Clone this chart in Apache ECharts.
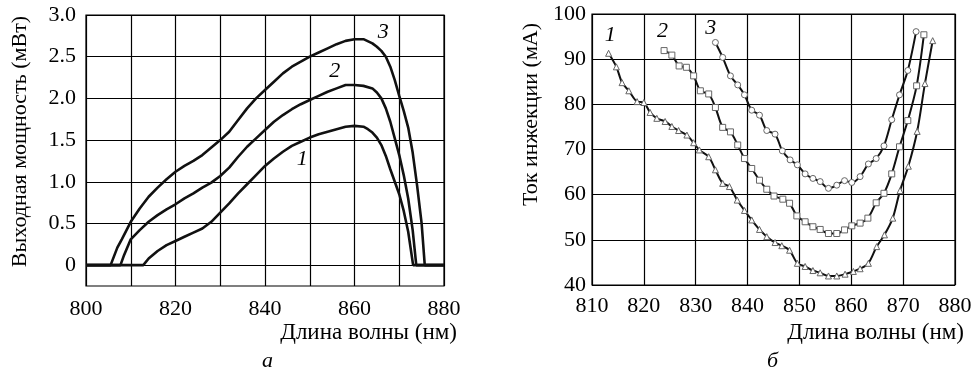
<!DOCTYPE html>
<html>
<head>
<meta charset="utf-8">
<script src="https://cdn.jsdelivr.net/npm/echarts@6/dist/echarts.min.js"></script>
<style>
  html, body { margin: 0; padding: 0; background: #fff; }
  #chart { width: 973px; height: 371px; }
</style>
</head>
<body>
<div id="chart"></div>
<script>
// panel (а): output power vs wavelength, [nm, mW]
const power1 = [[800, 0], [812.8, 0], [814, 0.08], [816, 0.17], [818, 0.24], [820, 0.29], [822, 0.34], [824, 0.39],
  [826, 0.44], [828, 0.52], [830, 0.63], [832, 0.74], [834, 0.86], [836, 0.97], [838, 1.08], [840, 1.19],
  [842, 1.28], [844, 1.36], [846, 1.43], [848, 1.48], [850, 1.53], [852, 1.57], [854, 1.6], [856, 1.63],
  [858, 1.66], [860, 1.67], [862, 1.66], [863, 1.63], [864, 1.59], [865, 1.53], [866, 1.44], [867, 1.31],
  [868, 1.15], [869, 1.0], [870, 0.85], [871, 0.65], [872, 0.4], [873.1, 0], [880, 0]];
const power2 = [[800, 0], [807.7, 0], [808.5, 0.12], [810, 0.31], [812, 0.42], [814, 0.52], [816, 0.6], [818, 0.67],
  [820, 0.73], [822, 0.8], [824, 0.86], [826, 0.93], [828, 0.99], [830, 1.07], [832, 1.17], [834, 1.3],
  [836, 1.42], [838, 1.52], [840, 1.62], [842, 1.72], [844, 1.8], [846, 1.87], [848, 1.93], [850, 1.98],
  [852, 2.03], [854, 2.08], [856, 2.12], [858, 2.16], [860, 2.16], [862, 2.15], [864, 2.12], [865, 2.07],
  [866, 2.0], [867, 1.88], [868, 1.72], [869, 1.52], [870, 1.32], [871, 1.08], [872, 0.8], [873, 0.42],
  [873.8, 0], [880, 0]];
const power3 = [[800, 0], [805.5, 0], [807, 0.21], [808, 0.31], [810, 0.52], [812, 0.68], [814, 0.82], [816, 0.93],
  [818, 1.03], [820, 1.12], [822, 1.19], [824, 1.25], [826, 1.32], [828, 1.41], [830, 1.5], [832, 1.6],
  [834, 1.74], [836, 1.88], [838, 2.0], [840, 2.1], [842, 2.2], [844, 2.3], [846, 2.38], [848, 2.44],
  [850, 2.5], [852, 2.55], [854, 2.6], [856, 2.65], [858, 2.69], [860, 2.71], [862, 2.71], [864, 2.66],
  [865, 2.62], [866, 2.57], [867, 2.5], [868, 2.38], [869, 2.22], [870, 2.03], [871, 1.85], [872, 1.65],
  [873, 1.35], [874, 0.95], [875, 0.5], [875.7, 0], [880, 0]];

// panel (б): injection current vs wavelength, [nm, mA]
const current1 = [[813.2, 91.3], [814.7, 88.3], [815.8, 84.8], [817.1, 83.0], [818.7, 80.6], [820, 80.4],
  [821.2, 78.2], [822.5, 76.9], [824.1, 76.2], [825.4, 75.1], [826.7, 74.2], [828.3, 73.2], [829.6, 71.5],
  [830.7, 69.9], [832.5, 68.4], [833.8, 65.5], [835.2, 62.5], [836.5, 61.8], [838, 58.8], [839.4, 56.5],
  [840.8, 54.4], [842.3, 52.3], [843.7, 50.7], [845.3, 49.4], [846.6, 48.7], [848.1, 47.7], [849.6, 44.8],
  [851.1, 44.1], [852.6, 43.2], [854, 42.7], [855.6, 42.0], [857.2, 42.0], [858.8, 42.4], [860.4, 43.0],
  [861.7, 43.6], [863.3, 44.8], [864.9, 48.5], [866.4, 51.1], [868, 54.8], [869.4, 60.9], [871, 66.3],
  [872.7, 74.0], [874.2, 84.6], [875.7, 94.1]];
const current2 = [[823.9, 91.9], [825.4, 90.9], [826.8, 88.5], [828.2, 88.2], [829.6, 86.3], [830.9, 83.0],
  [832.5, 82.3], [833.8, 79.3], [835.2, 74.9], [836.7, 73.9], [838.1, 71.0], [839.4, 68.0], [840.8, 65.8],
  [842.3, 63.2], [843.7, 61.2], [845.1, 59.7], [846.8, 59.0], [848.1, 58.1], [849.5, 55.3], [851.1, 54.0],
  [852.6, 52.9], [854, 52.3], [855.6, 51.4], [857.2, 51.4], [858.7, 52.2], [860.1, 53.1], [861.7, 53.7],
  [863.2, 54.8], [864.8, 58.2], [866.3, 60.3], [867.8, 64.6], [869.3, 70.6], [870.9, 76.4], [872.6, 84.1],
  [874, 95.4]];
const current3 = [[833.8, 93.7], [835.2, 90.4], [836.7, 86.3], [838.1, 84.3], [839.4, 82.1], [840.8, 78.7],
  [842.3, 77.6], [843.7, 74.2], [845.3, 73.4], [846.7, 69.7], [848.2, 67.7], [849.6, 66.6], [851.1, 64.6],
  [852.6, 63.6], [854, 62.9], [855.6, 61.4], [857.2, 62.1], [858.7, 63.1], [860.1, 62.7], [861.7, 64.0],
  [863.3, 66.8], [864.8, 68.0], [866.3, 70.8], [867.8, 76.6], [869.3, 82.1], [870.9, 87.5], [872.5, 96.1]];

// curve numbers: [name, nm, value]
const powerLabels = [['1', 848.3, 1.27], ['2', 855.6, 2.32], ['3', 866.4, 2.79]];
const currentLabels = [['1', 813.5, 95.3], ['2', 823.6, 96.1], ['3', 832.9, 96.8]];

const FONT = "'Liberation Serif', 'Times New Roman', serif";
const txt = {fontFamily: FONT, fontSize: 22, color: '#000'};

function numMarks(list) {
  return {
    symbol: 'circle',
    symbolSize: 1,
    itemStyle: {color: 'rgba(0,0,0,0)'},
    data: list.map(l => ({
      coord: [l[1], l[2]],
      label: {show: true, formatter: l[0], position: 'inside', fontFamily: FONT, fontSize: 22, fontStyle: 'italic', color: '#000'}
    }))
  };
}

const chart = echarts.init(document.getElementById('chart'));
chart.setOption({
  animation: false,
  backgroundColor: '#fff',
  grid: [
    {left: 86, right: 529, top: 15, bottom: 85, show: true, borderColor: '#000', borderWidth: 1.2, containLabel: false, outerBoundsMode: 'none'},
    {left: 592, right: 18, top: 14, bottom: 86, show: true, borderColor: '#000', borderWidth: 1.2, containLabel: false, outerBoundsMode: 'none'}
  ],
  xAxis: [
    {
      gridIndex: 0, type: 'value', min: 800, max: 880, interval: 10,
      axisLine: {show: false}, axisTick: {show: false},
      axisLabel: Object.assign({margin: 12, formatter: v => (v % 20 === 0 ? String(v) : '')}, txt),
      splitLine: {show: true, lineStyle: {color: '#000', width: 1.2}}
    },
    {
      gridIndex: 1, type: 'value', min: 810, max: 880, interval: 10,
      axisLine: {show: false}, axisTick: {show: false},
      axisLabel: Object.assign({margin: 10}, txt),
      splitLine: {show: true, lineStyle: {color: '#000', width: 1.2}}
    }
  ],
  yAxis: [
    {
      gridIndex: 0, type: 'value', min: -0.25, max: 3, interval: 0.25,
      axisLine: {show: false, onZero: false}, axisTick: {show: false},
      axisLabel: Object.assign({margin: 10, formatter: v => {
        const q = Math.round(v * 4);
        if (q < 0 || q % 2 !== 0) return '';
        return q === 0 ? '0' : v.toFixed(1);
      }}, txt),
      splitLine: {show: true, lineStyle: {color: ['rgba(0,0,0,0)', '#000'], width: 1.2}},
      name: 'Выходная мощность (мВт)', nameLocation: 'middle', nameRotate: 90, nameGap: 55,
      nameTextStyle: Object.assign({padding: [0, 0, 0, 18]}, txt)
    },
    {
      gridIndex: 1, type: 'value', min: 40, max: 100, interval: 10,
      axisLine: {show: false}, axisTick: {show: false},
      axisLabel: Object.assign({margin: 6}, txt),
      splitLine: {show: true, lineStyle: {color: '#000', width: 1.2}},
      name: 'Ток инжекции (мА)', nameLocation: 'middle', nameRotate: 90, nameGap: 50,
      nameTextStyle: Object.assign({padding: [0, 0, 0, 70]}, txt)
    }
  ],
  series: [
    {type: 'line', xAxisIndex: 0, yAxisIndex: 0, data: power1, showSymbol: false, lineStyle: {color: '#111', width: 2.6}, markPoint: numMarks([powerLabels[0]])},
    {type: 'line', xAxisIndex: 0, yAxisIndex: 0, data: power2, showSymbol: false, lineStyle: {color: '#111', width: 2.6}, markPoint: numMarks([powerLabels[1]])},
    {type: 'line', xAxisIndex: 0, yAxisIndex: 0, data: power3, showSymbol: false, lineStyle: {color: '#111', width: 2.6}, markPoint: numMarks([powerLabels[2]])},
    {type: 'line', xAxisIndex: 1, yAxisIndex: 1, data: current1, smooth: 0.3, symbol: 'triangle', symbolSize: 6,
      itemStyle: {color: '#fff', borderColor: '#666', borderWidth: 1}, lineStyle: {color: '#111', width: 2}, markPoint: numMarks([currentLabels[0]])},
    {type: 'line', xAxisIndex: 1, yAxisIndex: 1, data: current2, smooth: 0.3, symbol: 'rect', symbolSize: 6,
      itemStyle: {color: '#fff', borderColor: '#666', borderWidth: 1}, lineStyle: {color: '#111', width: 2}, markPoint: numMarks([currentLabels[1]])},
    {type: 'line', xAxisIndex: 1, yAxisIndex: 1, data: current3, smooth: 0.3, symbol: 'circle', symbolSize: 6,
      itemStyle: {color: '#fff', borderColor: '#666', borderWidth: 1}, lineStyle: {color: '#111', width: 2}, markPoint: numMarks([currentLabels[2]])}
  ],
  graphic: [
    {type: 'text', x: 457, y: 321, style: {text: 'Длина волны (нм)', align: 'right', verticalAlign: 'top', font: '23px ' + FONT, fill: '#000'}},
    {type: 'text', x: 964, y: 321, style: {text: 'Длина волны (нм)', align: 'right', verticalAlign: 'top', font: '23px ' + FONT, fill: '#000'}},
    {type: 'text', left: 262, top: 350, style: {text: 'а', font: 'italic 22px ' + FONT, fill: '#000'}},
    {type: 'text', left: 767, top: 350, style: {text: 'б', font: 'italic 22px ' + FONT, fill: '#000'}}
  ]
});
</script>
</body>
</html>
